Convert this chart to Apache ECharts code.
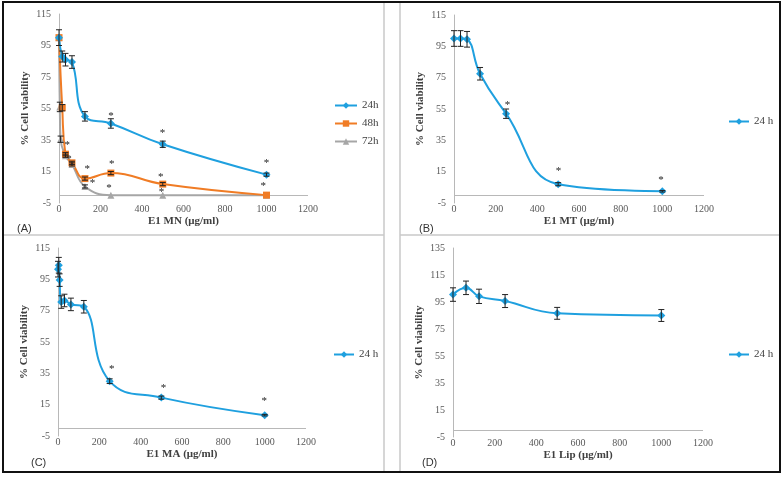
<!DOCTYPE html>
<html>
<head>
<meta charset="utf-8">
<script src="https://cdn.jsdelivr.net/npm/echarts@6.0.0/dist/echarts.min.js"></script>
<style>html,body{margin:0;padding:0;background:#fff;}#c{width:783px;height:477px;}</style>
</head>
<body>
<div id="c"></div>
<script>
// ---------- DATA ----------
// Panel A: E1 MN
const aX24 = [0, 15.6, 31.25, 62.5, 125, 250, 500, 1000];
const aY24 = [100, 88, 86, 84.5, 50, 45.5, 32.3, 13];
const aE24 = [5, 3.5, 4, 4, 3, 3, 2, 1];
const aX48 = [0, 15.6, 31.25, 62.5, 125, 250, 500, 1000];
const aY48 = [100, 55.5, 26, 20.5, 10.5, 14, 7, 0];
const aE48 = [0, 2, 1, 1, 1, 1, 1, 0];
const aX72 = [0, 3.9, 7.8, 31.25, 62.5, 125, 250, 500, 1000];
const aY72 = [100, 56, 35.5, 25, 19.5, 5.5, 0, 0, 0];
const aE72 = [0, 3, 2, 1, 1, 1, 0, 0, 0];
const aStarX = [40, 48, 136, 162, 254, 241, 250, 499, 490, 494, 1000, 984];
const aStarY = [33.2, 24.3, 17.9, 9, 20.7, 5.6, 51.4, 40.6, 13, 3.5, 21.5, 6.7];
// Panel B: E1 MT
const bX = [0, 31.25, 62.5, 125, 250, 500, 1000];
const bY = [100, 100, 99.5, 77.5, 52, 7, 2.5];
const bE = [5, 5, 5, 4, 3, 1, 0.5];
const bStarX = [257, 502, 993];
const bStarY = [58.8, 16.7, 11];
// Panel C: E1 MA
const cX = [0, 3.9, 7.8, 15.6, 31.25, 62.5, 125, 250, 500, 1000];
const cY = [101.5, 104, 94.5, 80.5, 81.5, 79, 77.5, 30, 19.5, 8.3];
const cE = [5, 5, 4, 4, 4, 4, 4, 1.5, 1, 0.5];
const cStarX = [260, 510, 998];
const cStarY = [39.2, 27.1, 18.4];
// Panel D: E1 Lip
const dX = [0, 62.5, 125, 250, 500, 1000];
const dY = [100.5, 105.5, 99.2, 95.7, 86.6, 85];
const dE = [5, 5, 5.3, 4.8, 4.4, 4.4];
// Axis ticks
const xTicks = [0, 200, 400, 600, 800, 1000, 1200];
const yTicksABC = [-5, 15, 35, 55, 75, 95, 115];
const yTicksD = [-5, 15, 35, 55, 75, 95, 115, 135];
const xTitles = ['E1 MN (μg/ml)', 'E1 MT (μg/ml)', 'E1 MA (μg/ml)', 'E1 Lip (μg/ml)'];
const yTitle = '% Cell viability';
const panelLabels = ['(A)', '(B)', '(C)', '(D)'];

// ---------- STYLE ----------
const BLUE = '#1fa0df', ORANGE = '#f07c25', GRAY = '#a6a6a6';
const SERIF = 'Liberation Serif';
const zip = (xs, ys) => xs.map((x, i) => [x, ys[i]]);
const errData = (xs, ys, es) => xs.map((x, i) => [x, ys[i] - es[i], ys[i] + es[i]]);

function errRender(params, api) {
  const x = api.value(0), lo = api.value(1), hi = api.value(2);
  if (hi - lo <= 0) return null;
  const p1 = api.coord([x, lo]), p2 = api.coord([x, hi]);
  const w = 3;
  const st = { stroke: '#222', lineWidth: 1 };
  return { type: 'group', children: [
    { type: 'line', shape: { x1: p1[0], y1: p1[1], x2: p2[0], y2: p2[1] }, style: st },
    { type: 'line', shape: { x1: p1[0] - w, y1: p1[1], x2: p1[0] + w, y2: p1[1] }, style: st },
    { type: 'line', shape: { x1: p2[0] - w, y1: p2[1], x2: p2[0] + w, y2: p2[1] }, style: st }
  ]};
}
function starRender(params, api) {
  const p = api.coord([api.value(0), api.value(1)]);
  return { type: 'text', x: p[0], y: p[1] + 2,
    style: { text: '*', fill: '#222', font: '11px ' + SERIF, textAlign: 'center', textVerticalAlign: 'middle' } };
}

const grids = [
  { left: 59, top: 14, width: 249, height: 189 },
  { left: 454, top: 15, width: 250, height: 188 },
  { left: 58, top: 248, width: 248, height: 188 },
  { left: 453, top: 248, width: 250, height: 189 }
];
const xAxes = grids.map((g, i) => ({
  type: 'value', gridIndex: i, min: xTicks[0], max: xTicks[xTicks.length - 1], interval: 200,
  axisLine: { show: false, onZero: false }, axisTick: { show: false }, splitLine: { show: false },
  axisLabel: { margin: 1, color: '#595959', fontFamily: SERIF, fontSize: 10, formatter: v => String(v) },
  name: xTitles[i], nameLocation: 'middle', nameGap: 13,
  nameTextStyle: { fontFamily: SERIF, fontWeight: 'bold', fontSize: 11, color: '#404040' }
}));
const yAxes = grids.map((g, i) => ({
  type: 'value', gridIndex: i, min: -5, max: i === 3 ? 135 : 115, interval: 20,
  axisLine: { show: true, onZero: false, lineStyle: { color: '#b8b8b8', width: 1 } },
  axisTick: { show: false }, splitLine: { show: false },
  axisLabel: { margin: 8, color: '#595959', fontFamily: SERIF, fontSize: 10,
    customValues: i === 3 ? yTicksD : yTicksABC, formatter: v => String(v) },
  name: yTitle, nameLocation: 'middle', nameGap: 28,
  nameTextStyle: { fontFamily: SERIF, fontWeight: 'bold', fontSize: 11, color: '#404040' }
}));

function lineSeries(name, idx, xs, ys, color, symbol, size, withZero) {
  const s = {
    name, type: 'line', xAxisIndex: idx, yAxisIndex: idx, data: zip(xs, ys),
    smooth: 0.45, smoothConstraint: false, symbol, symbolSize: size, z: 3,
    lineStyle: { color, width: 2 }, itemStyle: { color }, animation: false
  };
  if (withZero) {
    s.markLine = { silent: true, symbol: 'none', label: { show: false },
      lineStyle: { color: '#b8b8b8', type: 'solid', width: 1 }, data: [{ yAxis: 0 }], z: 1 };
  }
  return s;
}
function errSeries(idx, xs, ys, es) {
  return { type: 'custom', xAxisIndex: idx, yAxisIndex: idx, renderItem: errRender,
    data: errData(xs, ys, es), z: 5, silent: true, animation: false };
}
function starSeries(idx, xs, ys) {
  return { type: 'custom', xAxisIndex: idx, yAxisIndex: idx, renderItem: starRender,
    data: zip(xs, ys), z: 6, silent: true, animation: false };
}

const series = [
  lineSeries('72h', 0, aX72, aY72, GRAY, 'triangle', 7, true),
  lineSeries('48h', 0, aX48, aY48, ORANGE, 'rect', 7, false),
  lineSeries('24h', 0, aX24, aY24, BLUE, 'diamond', 8, false),
  errSeries(0, aX24, aY24, aE24), errSeries(0, aX48, aY48, aE48), errSeries(0, aX72, aY72, aE72),
  starSeries(0, aStarX, aStarY),
  lineSeries('24 h', 1, bX, bY, BLUE, 'diamond', 8, true),
  errSeries(1, bX, bY, bE), starSeries(1, bStarX, bStarY),
  lineSeries('24 h', 2, cX, cY, BLUE, 'diamond', 8, true),
  errSeries(2, cX, cY, cE), starSeries(2, cStarX, cStarY),
  lineSeries('24 h', 3, dX, dY, BLUE, 'diamond', 8, true),
  errSeries(3, dX, dY, dE)
];

const legTxt = { fontFamily: SERIF, fontSize: 11, color: '#404040' };
const legends = [
  { data: ['24h', '48h', '72h'], left: 334, top: 100, orient: 'vertical', itemWidth: 22, itemHeight: 8, itemGap: 7, padding: 0, textStyle: legTxt },
  { data: ['24 h'], left: 728, top: 116, itemWidth: 20, itemHeight: 8, padding: 0, textStyle: legTxt },
  { data: ['24 h'], left: 333, top: 349, itemWidth: 20, itemHeight: 8, padding: 0, textStyle: legTxt },
  { data: ['24 h'], left: 728, top: 349, itemWidth: 20, itemHeight: 8, padding: 0, textStyle: legTxt }
];

const lblPos = [[17, 223], [419, 223], [31, 457], [422, 457]];
const graphic = [
  { type: 'line', shape: { x1: 384, y1: 3, x2: 384, y2: 472 }, style: { stroke: '#c8c8c8', lineWidth: 1.5 }, silent: true },
  { type: 'line', shape: { x1: 400, y1: 3, x2: 400, y2: 472 }, style: { stroke: '#c8c8c8', lineWidth: 1.5 }, silent: true },
  { type: 'line', shape: { x1: 3, y1: 235, x2: 384, y2: 235 }, style: { stroke: '#c8c8c8', lineWidth: 1.5 }, silent: true },
  { type: 'line', shape: { x1: 400, y1: 235, x2: 780, y2: 235 }, style: { stroke: '#c8c8c8', lineWidth: 1.5 }, silent: true },
  { type: 'rect', shape: { x: 3, y: 2, width: 777, height: 470 }, style: { fill: 'none', stroke: '#111', lineWidth: 2 }, silent: true }
].concat(panelLabels.map((t, i) => ({
  type: 'text', x: lblPos[i][0], y: lblPos[i][1], silent: true,
  style: { text: t, font: '11px "Liberation Sans"', fill: '#333' }
})));

const chart = echarts.init(document.getElementById('c'), null, { renderer: 'canvas' });
chart.setOption({
  animation: false,
  backgroundColor: '#fff',
  grid: grids,
  xAxis: xAxes,
  yAxis: yAxes,
  legend: legends,
  series,
  graphic
});
</script>
</body>
</html>
